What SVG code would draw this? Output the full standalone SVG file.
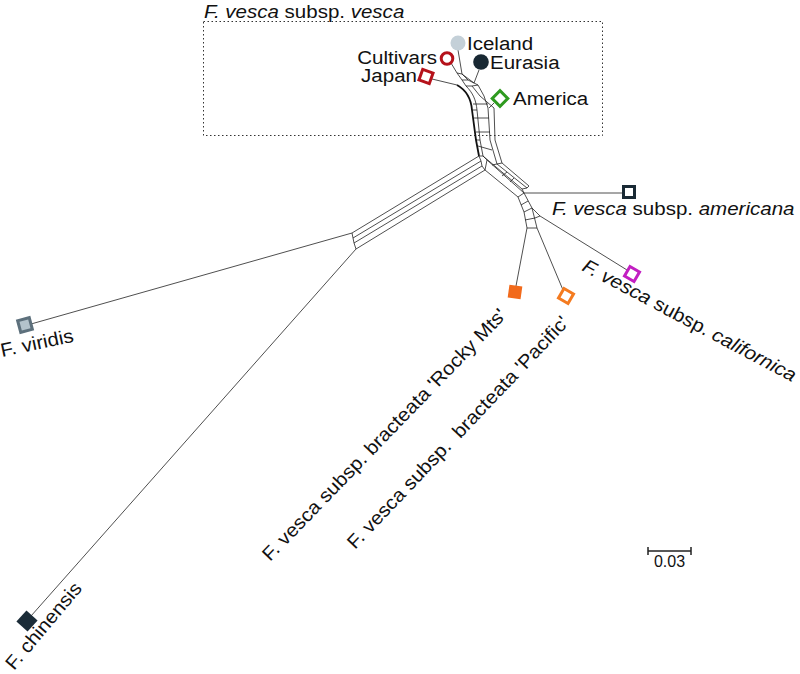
<svg xmlns="http://www.w3.org/2000/svg" width="800" height="674" viewBox="0 0 800 674">
<style>
  .t { font-family: "Liberation Sans", Arial, sans-serif; font-size: 19px; fill: #111; }
  .i { font-style: italic; }
  .e { stroke: #222; stroke-width: 0.8; fill: none; stroke-linejoin: round; }
  .b { stroke: #111; stroke-width: 1.8; fill: none; }
  .box { fill: none; stroke: #333; stroke-width: 1; stroke-dasharray: 1.5 2.5; }
</style>
<rect width="800" height="674" fill="#fff"/>

<g id="vesca-box">
  <rect class="box" x="203.5" y="21.5" width="399" height="114"/>
  <text class="t" transform="translate(204,17.5) scale(1.08,1)"><tspan class="i">F. vesca</tspan> subsp. <tspan class="i">vesca</tspan></text>
</g>

<g id="connectors">
  <!-- top cluster leaves -->
  <path class="e" d="M458,50 L462,74"/>
  <path class="e" d="M451,63 L457,73"/>
  <path class="e" d="M479,70 L474,83"/>
  <path class="e" d="M432,79 L457,85"/>
  <path class="e" d="M494,103 L489,108"/>
  <!-- top mesh -->
  <path class="e" d="M457,73 L462,74 L474,83 L478,85"/>
  <path class="e" d="M457,73 L462,80 L468,80 L474,83"/>
  <path class="e" d="M462,74 L468,80"/>
  <path class="e" d="M462,80 L466,86 L472,86 L478,85"/>
  <!-- trunk -->
  <path class="b" d="M457,85 C466,90 471,98 472,110 L476,140 L479,156"/>
  <path class="e" d="M466,86 C473,93 476,100 477,110 L480,140 L483,156"/>
  <path class="e" d="M478,85 L484,96 L488,108 L490,140 L497,164"/>
  <path class="e" d="M472,86 L480,96 L494,108 L495,140 L502,163"/>
  <path class="e" d="M473,104 L488,104 M474,118 L489,118 M476,132 L490,132 M478,146 L492,150"/>
  <path class="e" d="M477,110 L472,110 M480,140 L476,140"/>
  <!-- centre junction -->
  <path class="e" d="M479,156 L483,156 L487,160 L485,170 L482,166 L481,161 Z"/>
  <!-- left branch -->
  <path class="e" d="M479,156 L352,233"/>
  <path class="e" d="M481,161 L353,238"/>
  <path class="e" d="M482,166 L354,243"/>
  <path class="e" d="M485,170 L356,249"/>
  <path class="e" d="M352,233 L353,238 L354,243 L356,249"/>
  <path class="e" d="M352,233 L31,324"/>
  <path class="e" d="M356,249 L31,616"/>
  <!-- right branch -->
  <path class="e" d="M483,156 L522,189"/>
  <path class="e" d="M487,160 L524,193"/>
  <path class="e" d="M485,170 L518,197"/>
  <path class="e" d="M497,164 L527,188"/>
  <path class="e" d="M502,163 L529,186"/>
  <path class="e" d="M497,164 L502,163 M492,165 L497,164 M502,176 L507,172 M510,182 L514,178"/>
  <path class="e" d="M522,189 L527,188 L529,186 M518,197 L524,193 L522,189"/>
  <path class="e" d="M524,193 L623,193"/>
  <!-- lower mesh -->
  <path class="e" d="M518,197 L524,212 L527,228"/>
  <path class="e" d="M524,193 L532,208 L537,228"/>
  <path class="e" d="M521,205 L528,201 M524,212 L532,208 M525,220 L535,218 M527,228 L537,228"/>
  <path class="e" d="M532,208 L540,216 L535,218"/>
  <path class="e" d="M540,216 L627,270"/>
  <path class="e" d="M527,228 L516,286"/>
  <path class="e" d="M537,228 L563,290"/>
</g>

<g id="iceland">
  <circle cx="458" cy="43" r="7.5" fill="#c4d0d8"/>
  <text class="t" transform="translate(467,49.5) scale(1.08,1)">Iceland</text>
</g>
<g id="cultivars">
  <circle cx="447" cy="58.5" r="5.8" fill="#fff" stroke="#b5121b" stroke-width="3"/>
  <text class="t" transform="translate(437,63.5) scale(1.08,1)" text-anchor="end">Cultivars</text>
</g>
<g id="eurasia">
  <circle cx="481" cy="62" r="7.8" fill="#182833"/>
  <text class="t" transform="translate(490,68.5) scale(1.08,1)">Eurasia</text>
</g>
<g id="japan">
  <rect x="-5.5" y="-5.5" width="11" height="11" fill="#fff" stroke="#b5121b" stroke-width="3" transform="translate(426,76.5) rotate(20)"/>
  <text class="t" transform="translate(417,81.5) scale(1.08,1)" text-anchor="end">Japan</text>
</g>
<g id="america">
  <rect x="-5.5" y="-5.5" width="11" height="11" fill="#fff" stroke="#2e9a1f" stroke-width="3" transform="translate(500,98.5) rotate(45)"/>
  <text class="t" transform="translate(513,104.5) scale(1.08,1)">America</text>
</g>
<g id="americana">
  <rect x="623.5" y="186.5" width="11" height="11" fill="#fff" stroke="#1a2a35" stroke-width="3"/>
  <text class="t" transform="translate(552,215) scale(1.08,1)"><tspan class="i">F. vesca</tspan> subsp. <tspan class="i">americana</tspan></text>
</g>
<g id="californica">
  <rect x="-5.5" y="-5.5" width="11" height="11" fill="#fff" stroke="#c21fc2" stroke-width="3" transform="translate(632,274) rotate(30)"/>
  <text class="t" transform="translate(581,270) rotate(28) scale(1.08,1)"><tspan class="i">F. vesca</tspan> subsp. <tspan class="i">californica</tspan></text>
</g>
<g id="rocky-mts">
  <rect x="-6.5" y="-6.5" width="13" height="13" fill="#f26a1b" transform="translate(515,292) rotate(8)"/>
  <text class="t" transform="translate(270,562) rotate(-46) scale(1.08,1)">F. vesca subsp. bracteata 'Rocky Mts'</text>
</g>
<g id="pacific">
  <rect x="-5.5" y="-5.5" width="11" height="11" fill="#fff" stroke="#f47b20" stroke-width="3" transform="translate(566,296) rotate(30)"/>
  <text class="t" transform="translate(355,550) rotate(-46.5) scale(1.08,1)" xml:space="preserve">F. vesca subsp.  bracteata 'Pacific'</text>
</g>
<g id="viridis">
  <rect x="-6" y="-6" width="12" height="12" fill="#b3c3cc" stroke="#5d707c" stroke-width="3" transform="translate(25,325) rotate(-15)"/>
  <text class="t" transform="translate(2,357) rotate(-12) scale(1.08,1)">F. viridis</text>
</g>
<g id="chinensis">
  <rect x="-7.5" y="-7.5" width="15" height="15" fill="#1b2c38" transform="translate(27,621) rotate(42)"/>
  <text class="t" transform="translate(14,671) rotate(-50) scale(1.08,1)">F. chinensis</text>
</g>
<g id="scale-bar">
  <path d="M648,551 L691,551 M648,547 L648,555 M691,547 L691,555" stroke="#222" stroke-width="1.5" fill="none"/>
  <text x="669.5" y="567" text-anchor="middle" style="font-family:'Liberation Sans',Arial,sans-serif;font-size:16px;fill:#111">0.03</text>
</g>
</svg>
